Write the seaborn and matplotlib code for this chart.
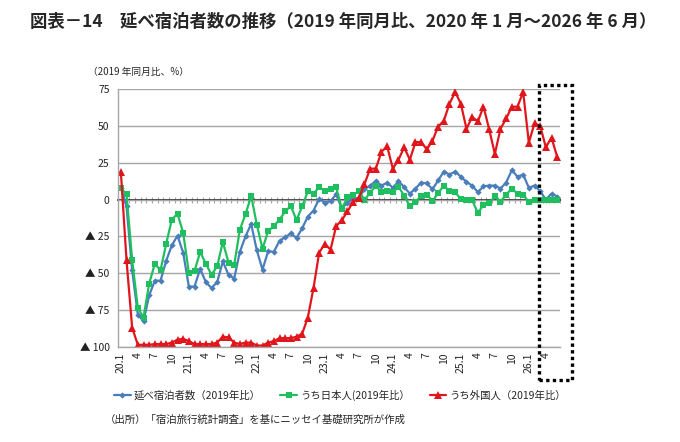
import matplotlib
matplotlib.use("Agg")
import matplotlib.pyplot as plt
import seaborn as sns
import numpy as np
from matplotlib.patches import Rectangle

# monthly values, 2020.1 - 2026.6 (% vs same month of 2019)
months = np.arange(78)

total = [8, -4.5, -48, -78, -82.5, -65, -55, -55, -41.6, -31, -24.5, -36,
         -59, -59, -47, -56, -60, -56, -42, -51, -53.6, -35.5, -25, -16.5,
         -34.5, -47.5, -35, -35.5, -28, -25.5, -23, -26, -19.5, -11.5, -7.5, 0.5,
         -2, -1, 3.5, -6, -2, 1, 1, 7, 9.5, 12.5, 9.5, 11.5,
         8, 12.5, 8.5, 4, 7.5, 11.5, 11, 7, 13, 19, 17, 19,
         15.5, 12, 9.5, 5, 9, 9.5, 9.5, 7.5, 11.5, 20, 15.5, 17,
         8, 9.5, 5.7, 0, 4, 2]

japanese = [8, 3.5, -41, -73.5, -80, -57, -43.5, -48, -30, -13.6, -9.6, -22.5,
            -49.5, -48.5, -35.5, -43.5, -51, -45.3, -28.7, -42.7, -44.5, -20.5, -10, 2.5,
            -17, -33.4, -21.3, -18, -13.6, -8, -4.3, -14, -4.5, 5.5, 3.8, 8.6,
            5.8, 7.5, 8.2, -6.2, 1.5, 3.4, 5.7, 0, 4.5, 9.5, 5, 5.7,
            5, 8.6, 2.7, -4.5, -1.8, 2.7, 3.4, -1, 4.5, 9.5, 5.7, 4.8,
            0.5, 0, -0.5, -9, -3.7, -2.4, 2.2, -1.5, 3.4, 7.5, 4, 3.4,
            -1.9, 0, 0, 0, 0, 0]

foreign = [19, -41, -87, -98.5, -98.5, -98.5, -98, -98, -98, -97, -95, -94.5,
           -96, -98, -98, -98, -98, -97, -93, -93.5, -97, -98, -97, -97,
           -99, -99, -97, -96, -94, -94, -94, -93, -91, -80, -60, -36,
           -30, -34, -18, -14, -8, -1.5, 1, 10.5, 21, 21, 32.5, 36,
           21, 27, 35.5, 27, 39, 39, 34, 40, 49.5, 53.5, 65, 73,
           65, 48, 56, 53, 63, 47.7, 31, 48, 55, 63, 63, 73,
           38.6, 51.7, 50, 35.5, 42, 29]

series_names = ["延べ宿泊者数（2019年比）", "うち日本人(2019年比）", "うち外国人（2019年比）"]

tick_pos = list(range(0, 78, 3))
tick_labels = []
for i in tick_pos:
    m = i % 12 + 1
    tick_labels.append(f"{20 + i // 12}.1" if m == 1 else str(m))

ytick_vals = [75, 50, 25, 0, -25, -50, -75, -100]
ytick_labels = ["75", "50", "25", "0", "▲ 25", "▲ 50", "▲ 75", "▲ 100"]

sns.set_theme(style="white")
plt.rcParams["font.family"] = ["Noto Sans CJK JP", "DejaVu Sans"]

fig = plt.figure(figsize=(6.8, 4.42), dpi=100)
ax = fig.add_axes([118 / 680, 1 - 347 / 442, 442 / 680, 258 / 442])

grid_c = "#a6a6a6"
sns.lineplot(x=months, y=total, ax=ax, color="#4a7ebb", lw=1.6, marker="D",
             markersize=3.2, markeredgewidth=0, label=series_names[0])
sns.lineplot(x=months, y=japanese, ax=ax, color="#1fbf5f", lw=1.6, marker="s",
             markersize=5, markeredgewidth=0, label=series_names[1])
sns.lineplot(x=months, y=foreign, ax=ax, color="#e0161c", lw=1.6, marker="^",
             markersize=5.5, markeredgewidth=0, label=series_names[2])

ax.set_xlim(-0.5, 77.5)
ax.set_ylim(-100, 75)
ax.set_yticks(ytick_vals, ytick_labels)
ax.yaxis.grid(True, color=grid_c, lw=1)
ax.set_axisbelow(True)
ax.tick_params(axis="y", length=0, labelsize=7.5, pad=6, labelcolor="#222222")
ax.set_xticks(tick_pos, tick_labels, rotation=90)
ax.tick_params(axis="x", length=0, labelsize=7.5, pad=4, labelcolor="#222222")
for s in ["top", "right"]:
    ax.spines[s].set_visible(False)
for s in ["left", "bottom"]:
    ax.spines[s].set_color(grid_c)
    ax.spines[s].set_linewidth(1)
ax.set_xlabel("")
ax.set_ylabel("")

# zero axis with monthly tick marks
zero_ax = ax.secondary_xaxis(100 / 175)
zero_ax.set_xticks(np.arange(-0.5, 78, 1))
zero_ax.tick_params(direction="inout", length=5, color=grid_c, width=0.8,
                    labelbottom=False, labeltop=False)
zero_ax.spines["bottom"].set_color(grid_c)

# dotted box over the latest months
ax.add_patch(Rectangle(((539 - 118) / 442, (347 - 380) / 258), 33 / 442, 295 / 258,
                       transform=ax.transAxes, fill=False, edgecolor="black",
                       lw=2.4, linestyle=(0, (1, 1)), clip_on=False, zorder=5))

handles, labels = ax.get_legend_handles_labels()
ax.get_legend().remove()
fig.legend(handles, labels, loc="center", bbox_to_anchor=(340 / 680, 1 - 395 / 442),
           ncol=3, frameon=False, fontsize=7.5, handlelength=1.6, columnspacing=1.9,
           handletextpad=0.3)

fig.text(30 / 680, 1 - 22 / 442,
         "図表－14　延べ宿泊者数の推移（2019 年同月比、2020 年 1 月～2026 年 6 月）",
         fontsize=12.5, fontweight="bold", va="center")
fig.text(88 / 680, 1 - 72 / 442, "（2019 年同月比、%）", fontsize=7, va="center")
fig.text(105 / 680, 1 - 420 / 442, "（出所）「宿泊旅行統計調査」を基にニッセイ基礎研究所が作成",
         fontsize=7.5, va="center")

fig.savefig("out.png", dpi=100)
